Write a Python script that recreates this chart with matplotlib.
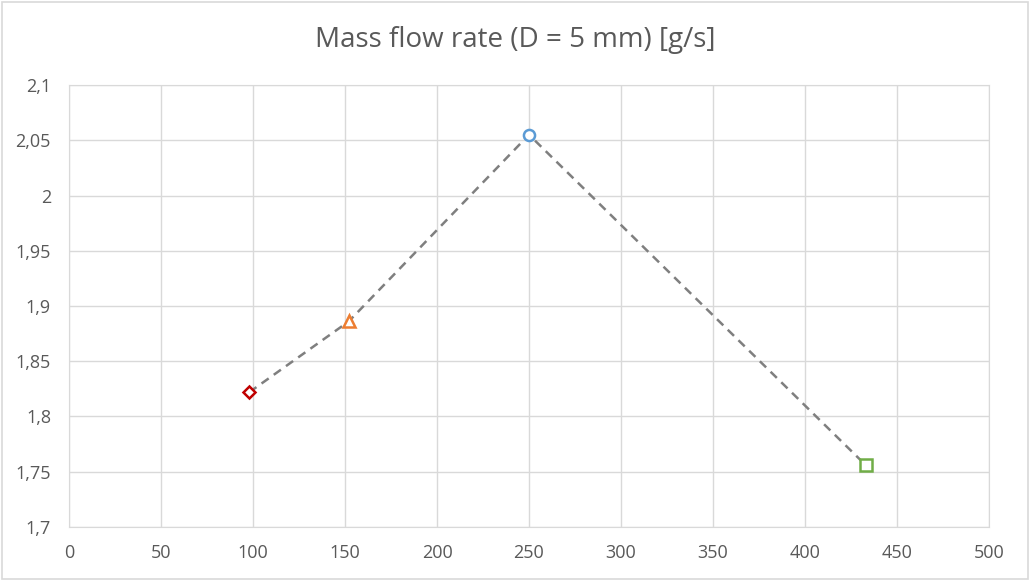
import numpy as np
import matplotlib.pyplot as plt
from matplotlib.ticker import FuncFormatter, MultipleLocator

# data
x_vals = [98, 152, 250, 433]
y_vals = [1.822, 1.886, 2.055, 1.756]
markers = ['D', '^', 'o', 's']
colors = ['#C00000', '#ED7D31', '#5B9BD5', '#70AD47']
sizes = [6, 8, 8, 8]

plt.rcParams['font.family'] = ['Open Sans', 'DejaVu Sans']
txt = '#595959'

fig = plt.figure(figsize=(10.3, 5.81), dpi=100)
ax = fig.add_axes([69/1030, 1 - 527/581, (989-69)/1030, (527-85)/581])

ax.plot(x_vals, y_vals, color='#7F7F7F', linestyle=(0, (3.5, 2.5)), linewidth=1.8, zorder=2)
for x, y, m, c, s in zip(x_vals, y_vals, markers, colors, sizes):
    ax.plot(x, y, marker=m, markersize=s, markerfacecolor='white', markeredgecolor=c,
            markeredgewidth=1.8, linestyle='none', zorder=3)

ax.set_xlim(0, 500)
ax.set_ylim(1.7, 2.1)
ax.xaxis.set_major_locator(MultipleLocator(50))
ax.yaxis.set_major_locator(MultipleLocator(0.05))
ax.yaxis.set_major_formatter(FuncFormatter(lambda v, p: ('%g' % round(v, 2)).replace('.', ',')))
ax.grid(True, color='#D9D9D9', linewidth=1)
ax.set_axisbelow(True)
for sp in ax.spines.values():
    sp.set_color('#D9D9D9')
ax.tick_params(length=0, colors=txt, labelsize=13)
ax.tick_params(axis='y', pad=13)
ax.tick_params(axis='x', pad=12)

fig.suptitle('Mass flow rate (D = 5 mm) [g/s]', y=1 - 40/581, va='center', fontsize=20, color=txt)

# light frame around the chart area
fig.patches.append(plt.Rectangle((0.002, 0.004), 0.996, 0.992, transform=fig.transFigure,
                                 fill=False, edgecolor='#D9D9D9', linewidth=1.2))

fig.savefig('out.png', dpi=100)
